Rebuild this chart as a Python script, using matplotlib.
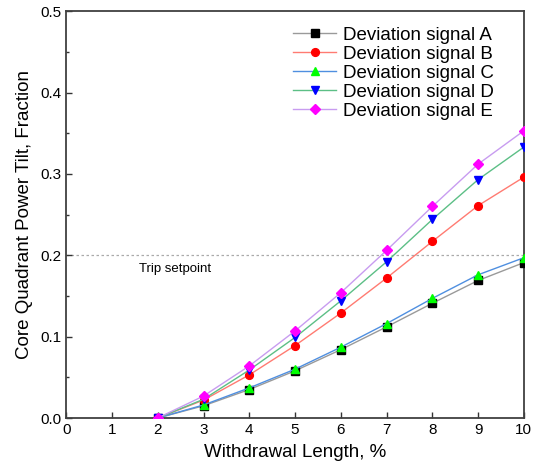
import matplotlib
matplotlib.use("Agg")
import matplotlib.pyplot as plt
from matplotlib.ticker import MultipleLocator, FormatStrFormatter

plt.rcParams['font.family'] = ['Liberation Sans', 'DejaVu Sans']

withdrawal = [2, 3, 4, 5, 6, 7, 8, 9, 10]
signal_a = [0.0, 0.015, 0.035, 0.058, 0.084, 0.112, 0.141, 0.169, 0.191]
signal_b = [0.0, 0.022, 0.053, 0.089, 0.129, 0.172, 0.217, 0.261, 0.296]
signal_c = [0.0, 0.016, 0.037, 0.060, 0.087, 0.116, 0.147, 0.176, 0.197]
signal_d = [0.0, 0.023, 0.059, 0.099, 0.144, 0.192, 0.244, 0.293, 0.333]
signal_e = [0.0, 0.027, 0.064, 0.107, 0.154, 0.206, 0.260, 0.312, 0.353]
trip_setpoint = 0.2

series = [
    ("Deviation signal A", signal_a, "#9a9a9a", "s", "black"),
    ("Deviation signal B", signal_b, "#ff7b72", "o", "red"),
    ("Deviation signal C", signal_c, "#4f8fe0", "^", "#00ff00"),
    ("Deviation signal D", signal_d, "#5cbf86", "v", "blue"),
    ("Deviation signal E", signal_e, "#c89cf0", "D", "magenta"),
]

fig = plt.figure(figsize=(5.34, 4.66), dpi=100)
ax = fig.add_axes([0.124, 0.103, 0.857, 0.873])

ax.axhline(trip_setpoint, color="#aaaaaa", lw=0.9, ls=(0, (2, 2)), zorder=1)
ax.text(1.6, trip_setpoint - 0.009, "Trip setpoint", fontsize=9.5, va="top", ha="left")

for label, vals, lc, mk, mc in series:
    ms = 4.8 if mk == "D" else 5.6
    ax.plot(withdrawal, vals, color=lc, lw=1.0, marker=mk, markersize=ms,
            markerfacecolor=mc, markeredgecolor=mc, label=label, zorder=3)

ax.set_xlim(0, 10)
ax.set_ylim(0, 0.5)
ax.xaxis.set_major_locator(MultipleLocator(1))
ax.yaxis.set_major_locator(MultipleLocator(0.1))
ax.yaxis.set_minor_locator(MultipleLocator(0.05))
ax.yaxis.set_major_formatter(FormatStrFormatter("%.1f"))
ax.tick_params(direction="in", labelsize=11, length=4, width=1, colors="#333333",
               labelcolor="black")
ax.tick_params(which="minor", direction="in", length=2.5, width=1, colors="#333333")
for sp in ax.spines.values():
    sp.set_color("#404040")
    sp.set_linewidth(1.3)

ax.set_xlabel("Withdrawal Length, %", fontsize=13.5, labelpad=5)
ax.set_ylabel("Core Quadrant Power Tilt, Fraction", fontsize=13.5, labelpad=5)

leg = ax.legend(loc="upper right", bbox_to_anchor=(0.951, 0.98), frameon=False,
                fontsize=13.5, handlelength=2.3, handletextpad=0.35,
                labelspacing=0.1, borderaxespad=0.0)

fig.savefig("out.png", dpi=100)
